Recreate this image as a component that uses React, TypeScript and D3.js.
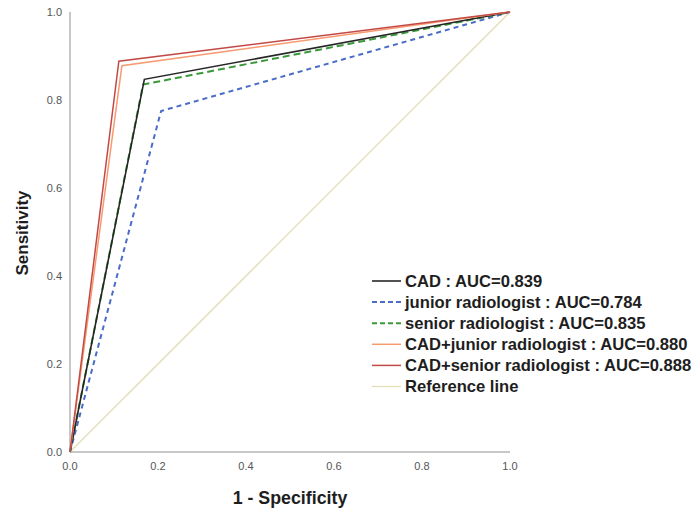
import React from "react";
import * as d3 from "d3";

const W = 696;
const H = 512;

// ROC points: [1 - specificity, sensitivity]
const cadPts: [number, number][] = [[0, 0], [0.169, 0.847], [1, 1]];
const juniorPts: [number, number][] = [[0, 0], [0.207, 0.775], [1, 1]];
const seniorPts: [number, number][] = [[0, 0], [0.166, 0.835], [1, 1]];
const cadJuniorPts: [number, number][] = [[0, 0], [0.118, 0.878], [1, 1]];
const cadSeniorPts: [number, number][] = [[0, 0], [0.111, 0.888], [1, 1]];
const refPts: [number, number][] = [[0, 0], [1, 1]];

const tickValues = [0, 0.2, 0.4, 0.6, 0.8, 1.0];

const seriesNames = [
  "CAD : AUC=0.839",
  "junior radiologist : AUC=0.784",
  "senior radiologist : AUC=0.835",
  "CAD+junior radiologist : AUC=0.880",
  "CAD+senior radiologist : AUC=0.888",
  "Reference line",
];

const series = [
  { pts: cadPts, color: "#262626", dash: "", width: 1.6 },
  { pts: juniorPts, color: "#4a6cc8", dash: "5,4", width: 2 },
  { pts: seniorPts, color: "#3a9a3a", dash: "7,4", width: 2 },
  { pts: cadJuniorPts, color: "#f79a70", dash: "", width: 1.5 },
  { pts: cadSeniorPts, color: "#c24a46", dash: "", width: 1.5 },
  { pts: refPts, color: "#e2ddb4", dash: "", width: 1.3 },
];

export default function App() {
  const x = d3.scaleLinear().domain([0, 1]).range([70, 510]);
  const y = d3.scaleLinear().domain([0, 1]).range([452, 12]);
  const line = d3
    .line<[number, number]>()
    .x((d) => x(d[0]))
    .y((d) => y(d[1]));
  const fmt = d3.format(".1f");

  // draw order: reference first, then the rest
  const order = [5, 1, 2, 0, 3, 4];

  return (
    <svg
      width={W}
      height={H}
      style={{ position: "absolute", left: 0, top: 0, background: "#fff" }}
      fontFamily="Arial, 'Liberation Sans', sans-serif"
    >
      <rect width={W} height={H} fill="#fff" />
      {/* axes */}
      <line x1={x(0)} x2={x(0)} y1={y(1)} y2={y(0)} stroke="#b4b4b4" strokeWidth={1.5} />
      <line x1={x(0)} x2={x(1)} y1={y(0)} y2={y(0)} stroke="#b4b4b4" strokeWidth={1.5} />
      {tickValues.map((t) => (
        <text key={"y" + t} x={62} y={y(t)} dy="0.35em" textAnchor="end" fontSize={11} fill="#555">
          {fmt(t)}
        </text>
      ))}
      {tickValues.map((t) => (
        <text key={"x" + t} x={x(t)} y={466} dy="0.35em" textAnchor="middle" fontSize={11} fill="#555">
          {fmt(t)}
        </text>
      ))}
      {order.map((i) => {
        const s = series[i];
        return (
          <path
            key={i}
            d={line(s.pts) || ""}
            fill="none"
            stroke={s.color}
            strokeWidth={s.width}
            strokeDasharray={s.dash}
          />
        );
      })}
      {/* legend */}
      {seriesNames.map((name, i) => {
        const s = series[i];
        const ly = 281 + i * 21.1;
        return (
          <g key={name}>
            <line x1={372} x2={401} y1={ly} y2={ly} stroke={s.color} strokeWidth={s.width} strokeDasharray={s.dash ? "5,3" : ""} />
            <text x={405} y={ly} dy="0.36em" fontSize={16.6} fontWeight="bold" fill="#1e1e1e">
              {name}
            </text>
          </g>
        );
      })}
      <text x={290} y={498} dy="0.35em" textAnchor="middle" fontSize={17.8} fontWeight="bold" fill="#1e1e1e">
        1 - Specificity
      </text>
      <text
        transform={`translate(22,${233}) rotate(-90)`}
        dy="0.35em"
        textAnchor="middle"
        fontSize={17}
        fontWeight="bold"
        fill="#1e1e1e"
      >
        Sensitivity
      </text>
    </svg>
  );
}
